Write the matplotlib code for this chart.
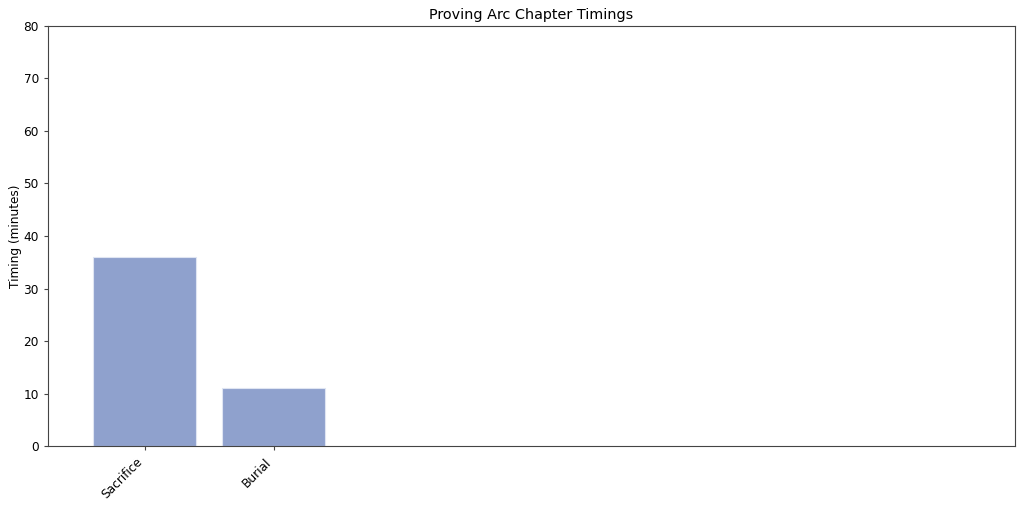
import matplotlib
matplotlib.use('Agg')
import matplotlib.pyplot as plt

chapters = ['Sacrifice', 'Burial']
timings = [36, 11]


def main():
    plt.rcParams['font.size'] = 8.7
    fig = plt.figure(figsize=(10.24, 5.07), dpi=100)
    ax = fig.add_axes([0.047, 0.120, 0.944, 0.829])

    ax.bar(chapters, timings, width=0.8, color='#8fa1cd', edgecolor='#dfe5f2', linewidth=0.8)
    ax.set_xlim(-0.75, 6.75)
    ax.set_ylim(0, 80)
    ax.set_ylabel('Timing (minutes)', fontsize=8.7, labelpad=1)
    ax.set_title('Proving Arc Chapter Timings', fontsize=10.4, pad=5)
    ax.tick_params(labelsize=8.7, color='#444444', length=3.2)
    for s in ax.spines.values():
        s.set_color('#444444')
    plt.setp(ax.get_xticklabels(), rotation=45, ha='right')

    fig.savefig('out.png', dpi=100)


main()
